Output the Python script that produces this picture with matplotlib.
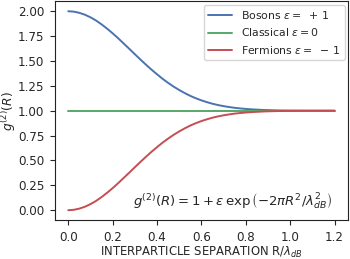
import matplotlib
matplotlib.use("Agg")
import matplotlib.pyplot as plt
import seaborn as sns

sns.set_style("ticks")
plt.rcParams["font.family"] = ["DejaVu Sans"]

# Values
R = [0.000, 0.025, 0.050, 0.075, 0.100, 0.125, 0.150, 0.175, 0.200, 0.225,
     0.250, 0.275, 0.300, 0.325, 0.350, 0.375, 0.400, 0.425, 0.450, 0.475,
     0.500, 0.525, 0.550, 0.575, 0.600, 0.625, 0.650, 0.675, 0.700, 0.725,
     0.750, 0.775, 0.800, 0.825, 0.850, 0.875, 0.900, 0.950, 1.000, 1.050,
     1.100, 1.150, 1.200]
bosons = [2.000, 1.996, 1.984, 1.965, 1.939, 1.907, 1.868, 1.825, 1.778,
          1.728, 1.675, 1.622, 1.568, 1.515, 1.463, 1.413, 1.366, 1.321,
          1.280, 1.242, 1.208, 1.177, 1.149, 1.125, 1.104, 1.086, 1.070,
          1.057, 1.046, 1.037, 1.029, 1.023, 1.018, 1.014, 1.011, 1.008,
          1.006, 1.003, 1.002, 1.001, 1.000, 1.000, 1.000]
classical = [1.0] * len(R)
fermions = [0.000, 0.004, 0.016, 0.035, 0.061, 0.093, 0.132, 0.175, 0.222,
            0.272, 0.325, 0.378, 0.432, 0.485, 0.537, 0.587, 0.634, 0.679,
            0.720, 0.758, 0.792, 0.823, 0.851, 0.875, 0.896, 0.914, 0.930,
            0.943, 0.954, 0.963, 0.971, 0.977, 0.982, 0.986, 0.989, 0.992,
            0.994, 0.997, 0.998, 0.999, 1.000, 1.000, 1.000]

deep = sns.color_palette("deep")

fig, ax = plt.subplots(figsize=(3.5, 2.59), dpi=100)
ax.plot(R, bosons, color=deep[0], lw=1.4, label=r"Bosons $\varepsilon =\ +\,1$")
ax.plot(R, classical, color=deep[2], lw=1.4, label=r"Classical $\varepsilon = 0$")
ax.plot(R, fermions, color=deep[3], lw=1.4, label=r"Fermions $\varepsilon =\ -\,1$")

ax.text(0.29, 0.09,
        r"$g^{(2)}(R) = 1 + \varepsilon\,\exp\left(-2\pi R^2/\lambda_{dB}^2\right)$",
        fontsize=9.5, va="center", ha="left")

ax.set_xticks([0.0, 0.2, 0.4, 0.6, 0.8, 1.0, 1.2])
ax.set_yticks([0.0, 0.25, 0.5, 0.75, 1.0, 1.25, 1.5, 1.75, 2.0])
ax.set_yticklabels(["0.00", "0.25", "0.50", "0.75", "1.00", "1.25",
                    "1.50", "1.75", "2.00"])
ax.tick_params(labelsize=8.6, length=3.5, pad=4)
for s in ax.spines.values():
    s.set_color("#222222")
ax.set_xlabel(r"INTERPARTICLE SEPARATION R/$\lambda_{dB}$", fontsize=8.4,
              labelpad=1)
ax.set_ylabel(r"$g^{(2)}(R)$", fontsize=8.8)
ax.yaxis.set_label_coords(-0.125, 0.5)
ax.legend(loc="upper right", fontsize=7.8, handlelength=2.2,
          borderaxespad=0.3)

fig.subplots_adjust(left=0.157, right=0.994, top=0.995, bottom=0.15)
fig.savefig("out.png", dpi=100)
